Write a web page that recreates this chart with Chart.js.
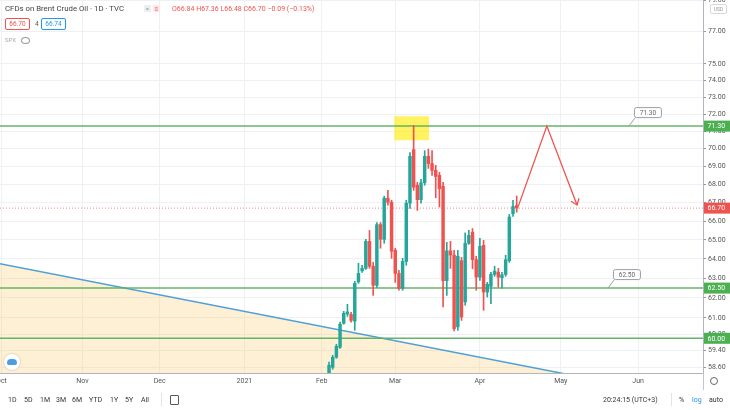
<!DOCTYPE html>
<html>
<head>
<meta charset="utf-8">
<script src="https://cdn.jsdelivr.net/npm/chart.js@4.4.0/dist/chart.umd.min.js"></script>
<style>
  body { margin: 0; background: #fff; font-family: Roboto, "Open Sans", sans-serif; }
  #wrap { position: relative; width: 730px; height: 410px; overflow: hidden; }
  #myChart { position: absolute; left: 0; top: 0; }
  .t { position: absolute; white-space: nowrap; line-height: 1; }
  .box { position: absolute; border: 1px solid; border-radius: 2px; background: #fff; font-size: 6.5px; text-align: center; line-height: 10px; box-sizing: border-box; }
  .tb { position: absolute; top: 396px; font-size: 7px; color: #333; white-space: nowrap; }
</style>
</head>
<body>
<div id="wrap">
  <canvas id="myChart" width="730" height="410"></canvas>

  <div class="t" style="left:5px;top:5px;font-size:7.8px;color:#444;">CFDs on Brent Crude Oil · 1D · TVC</div>
  <div class="t" style="left:144px;top:5px;width:7px;height:7px;background:#eceff2;border-radius:1px;font-size:6px;color:#888;text-align:center;line-height:7px;">=</div>
  <div class="t" style="left:153px;top:5px;width:7px;height:7px;background:#fde7ea;border-radius:1px;font-size:6px;color:#ef5350;text-align:center;line-height:7px;">≡</div>
  <div class="t" style="left:172px;top:6px;font-size:7px;color:#ef5350;">O66.84 H67.36 L66.48 C66.70 −0.09 (−0.13%)</div>

  <div class="box" style="left:5px;top:18px;width:25px;height:12px;border-color:#ef5350;color:#ef5350;">66.70</div>
  <div class="t" style="left:35px;top:21px;font-size:6.5px;color:#555;">4</div>
  <div class="box" style="left:41px;top:18px;width:25px;height:12px;border-color:#2196f3;color:#2196f3;">66.74</div>

  <div class="t" style="left:5px;top:37px;font-size:6px;color:#aaa;">SPX</div>
  <div class="t" style="left:21px;top:37px;width:7px;height:5px;border:1px solid #999;border-radius:50%;"></div>

  <div class="t" style="left:710px;top:4px;width:15px;height:8px;border:1px solid #d6d8dd;border-radius:2px;font-size:5px;color:#999;text-align:center;line-height:8px;">USD</div>

  <div class="t" style="left:4px;top:354px;width:16px;height:16px;border-radius:50%;background:#fff;box-shadow:0 0 2px rgba(0,0,0,0.25);"></div>
  <div class="t" style="left:7px;top:359px;width:10px;height:6px;border-radius:4px 4px 2px 2px;background:#4b9fe0;"></div>

  <div class="t" style="left:703px;top:373px;width:1px;height:17px;background:#c3c6cc;"></div>
  <div class="t" style="left:710px;top:377px;width:6px;height:6px;border:1.5px solid #666;border-radius:50%;"></div>

  <span class="tb" style="left:8px;">1D</span>
  <span class="tb" style="left:24px;">5D</span>
  <span class="tb" style="left:40px;">1M</span>
  <span class="tb" style="left:56px;">3M</span>
  <span class="tb" style="left:72px;">6M</span>
  <span class="tb" style="left:89px;">YTD</span>
  <span class="tb" style="left:110px;">1Y</span>
  <span class="tb" style="left:125px;">5Y</span>
  <span class="tb" style="left:141px;">All</span>
  <div class="t" style="left:161px;top:393px;width:1px;height:13px;background:#e0e3eb;"></div>
  <div class="t" style="left:170px;top:395px;width:7px;height:8px;border:1px solid #555;border-radius:1px;"></div>
  <span class="tb" style="left:603px;">20:24:15 (UTC+3)</span>
  <div class="t" style="left:671px;top:393px;width:1px;height:13px;background:#e0e3eb;"></div>
  <span class="tb" style="left:679px;">%</span>
  <span class="tb" style="left:692px;color:#2196f3;">log</span>
  <span class="tb" style="left:709px;">auto</span>
</div>

<script>
// x axis = trading day index counted from 1 Oct 2020
var monthLabels = ["Oct", "Nov", "Dec", "2021", "Feb", "Mar", "Apr", "May", "Jun"];
var monthIdx = [0, 22, 43, 66, 87, 107, 130, 152, 173];
var priceTicks = [58.6, 59.4, 60.2, 61, 62, 63, 64, 65, 66, 67, 68, 69, 70, 71, 72, 73, 74, 75, 77, 79];

// daily candles, first one at index 89
var firstIdx = 89;
var opens = [58.10, 58.60, 59.08, 59.56, 60.74, 61.20, 61.18, 60.84, 62.82, 63.38,
  63.51, 64.92, 63.62, 62.64, 65.81, 65.03, 67.24, 67.02, 64.45, 63.25,
  62.49, 63.87, 66.97, 69.95, 67.95, 67.16, 68.09, 69.57, 69.16, 68.78,
  68.50, 67.90, 62.88, 64.42, 64.20, 60.56, 63.91, 61.80, 64.82, 65.41,
  63.96, 63.06, 64.71, 62.30, 62.59, 63.20, 63.31, 63.03, 63.20, 63.91,
  66.40, 66.84];
var highs = [58.85, 59.18, 59.71, 60.79, 61.33, 61.68, 61.28, 62.84, 63.77, 63.67,
  65.03, 65.50, 63.82, 65.92, 65.92, 67.35, 67.67, 67.13, 64.56, 63.41,
  64.03, 67.13, 69.78, 71.34, 68.11, 68.28, 69.89, 69.98, 69.89, 69.06,
  68.67, 68.11, 64.87, 64.92, 64.45, 64.45, 64.08, 65.37, 65.50, 65.60,
  64.14, 65.08, 64.97, 62.79, 63.30, 63.62, 63.51, 63.30, 64.19, 66.36,
  67.13, 67.36];
var lows = [58.05, 58.51, 59.03, 59.51, 60.69, 61.08, 60.79, 60.39, 62.74, 63.30,
  63.46, 63.51, 62.13, 62.54, 64.56, 64.82, 66.86, 64.03, 62.79, 62.39,
  62.39, 63.67, 66.68, 67.67, 66.58, 66.97, 67.95, 68.89, 68.50, 67.26,
  66.76, 61.55, 62.13, 63.51, 60.36, 60.39, 60.88, 61.63, 64.76, 63.49,
  62.39, 62.89, 61.38, 62.05, 61.71, 63.10, 62.55, 62.49, 63.10, 63.82,
  66.25, 66.48];
var closes = [58.70, 59.08, 59.61, 60.69, 61.23, 61.30, 60.88, 62.74, 63.25, 63.51,
  64.92, 63.62, 62.64, 65.81, 65.03, 67.24, 67.02, 64.40, 63.25, 62.49,
  63.87, 66.97, 69.57, 67.85, 67.16, 68.09, 69.57, 69.16, 68.78, 68.44,
  67.76, 62.88, 64.42, 64.20, 60.47, 64.14, 61.05, 64.82, 65.24, 63.96,
  63.06, 64.66, 62.30, 62.69, 63.20, 63.37, 63.06, 63.18, 63.96, 66.22,
  66.79, 66.70];

// drawings on the chart
var levels = [71.30, 62.50, 60.00];
var lastPrice = 66.70;
var trendX = [-3, 154];
var trendY = [63.84, 58.26];
var projX = [140.4, 148.2, 156.4];
var projY = [66.78, 71.30, 66.87];
var boxX = [106.7, 116.2];
var boxY = [70.48, 71.87];
var calloutX = [170.5, 164.8];
var calloutY = [71.30, 62.50];
var tagValues = [71.30, 66.70, 62.50, 60.00];
var tagColors = ["#4caf50", "#ef5350", "#4caf50", "#4caf50"];

var X_MIN = -0.41, X_MAX = 190.63;
var UP = "#26a69a", DOWN = "#ef5350";

var wicks = [], bodies = [], colors = [];
for (var i = 0; i < opens.length; i++) {
  wicks.push({ x: firstIdx + i, y: [lows[i], highs[i]] });
  bodies.push({ x: firstIdx + i, y: [opens[i], closes[i]] });
  colors.push(closes[i] >= opens[i] ? UP : DOWN);
}

function hline(v) {
  return [{ x: X_MIN, y: v }, { x: X_MAX, y: v }];
}
function pts(xs, ys) {
  return xs.map(function (x, i) { return { x: x, y: ys[i] }; });
}

var datasets = [];
// trend line with the shaded area below it
datasets.push({
  type: "line", data: pts(trendX, trendY), borderColor: "#4f9fd8", borderWidth: 1.5,
  fill: "start", backgroundColor: "rgba(250,200,100,0.28)", pointRadius: 0, order: 20
});
// yellow box round the top
datasets.push({
  type: "line", data: pts(boxX, [boxY[1], boxY[1]]), borderWidth: 0, borderColor: "rgba(0,0,0,0)",
  fill: "+1", backgroundColor: "rgba(255,235,0,0.62)", pointRadius: 0, order: 19
});
datasets.push({
  type: "line", data: pts(boxX, [boxY[0], boxY[0]]), borderWidth: 0, borderColor: "rgba(0,0,0,0)",
  fill: false, pointRadius: 0, order: 19
});
levels.forEach(function (v) {
  datasets.push({
    type: "line", data: hline(v), borderColor: "rgba(92,176,96,0.95)", borderWidth: 1.5,
    fill: false, pointRadius: 0, order: 10
  });
});
datasets.push({
  type: "line", data: hline(lastPrice), borderColor: "rgba(239,83,80,0.7)", borderWidth: 1,
  borderDash: [1, 2], fill: false, pointRadius: 0, order: 11
});
datasets.push({
  type: "bar", data: wicks, backgroundColor: colors, barThickness: 1, grouped: false, order: 3
});
datasets.push({
  type: "bar", data: bodies, backgroundColor: colors, barThickness: 2.8, grouped: false,
  minBarLength: 1, order: 2
});
datasets.push({
  type: "line", data: pts(projX, projY), borderColor: "#ef5350", borderWidth: 1.3,
  fill: false, pointRadius: 0, order: 1
});

var overlay = {
  id: "overlay",
  afterDatasetsDraw: function (chart) {
    var ctx = chart.ctx, xs = chart.scales.x, ys = chart.scales.y;
    ctx.save();
    // arrow head at the end of the projection
    var n = projX.length;
    var x2 = xs.getPixelForValue(projX[n - 1]), y2 = ys.getPixelForValue(projY[n - 1]);
    var x1 = xs.getPixelForValue(projX[n - 2]), y1 = ys.getPixelForValue(projY[n - 2]);
    var ang = Math.atan2(y2 - y1, x2 - x1);
    ctx.strokeStyle = "#ef5350";
    ctx.lineWidth = 1.3;
    ctx.beginPath();
    ctx.moveTo(x2 - 7 * Math.cos(ang - 0.65), y2 - 7 * Math.sin(ang - 0.65));
    ctx.lineTo(x2, y2);
    ctx.lineTo(x2 - 7 * Math.cos(ang + 0.65), y2 - 7 * Math.sin(ang + 0.65));
    ctx.stroke();

    // callout labels
    ctx.font = "6.5px Roboto, sans-serif";
    ctx.textAlign = "center";
    ctx.textBaseline = "middle";
    for (var i = 0; i < calloutX.length; i++) {
      var ax = xs.getPixelForValue(calloutX[i]), ay = ys.getPixelForValue(calloutY[i]);
      ctx.strokeStyle = "#9a9ea6";
      ctx.lineWidth = 1;
      ctx.beginPath();
      ctx.moveTo(ax, ay);
      ctx.lineTo(ax + 6, ay - 8);
      ctx.stroke();
      var bx = ax + 5.5, by = ay - 18.5;
      ctx.beginPath();
      ctx.roundRect(bx, by, 27, 10, 2);
      ctx.fillStyle = "#fff";
      ctx.fill();
      ctx.stroke();
      ctx.fillStyle = "#666";
      ctx.fillText(calloutY[i].toFixed(2), bx + 13.5, by + 5.3);
    }
    ctx.restore();
  },
  afterDraw: function (chart) {
    var ctx = chart.ctx, ys = chart.scales.y, a = chart.chartArea;
    ctx.save();
    ctx.font = "7px Roboto, sans-serif";
    ctx.textAlign = "left";
    ctx.textBaseline = "middle";
    tagValues.forEach(function (v, i) {
      var y = ys.getPixelForValue(v);
      ctx.fillStyle = tagColors[i];
      ctx.fillRect(a.right + 1, y - 5.5, 26, 11);
      ctx.fillStyle = "#fff";
      ctx.fillText(v.toFixed(2), a.right + 4.5, y + 0.5);
    });
    ctx.restore();
  }
};

var ctx = document.getElementById("myChart").getContext("2d");
var myChart = new Chart(ctx, {
  type: "bar",
  data: { datasets: datasets },
  plugins: [overlay],
  options: {
    responsive: false,
    animation: false,
    layout: { padding: 0 },
    plugins: { legend: { display: false }, tooltip: { enabled: false } },
    scales: {
      x: {
        type: "linear",
        min: X_MIN,
        max: X_MAX,
        offset: false,
        grid: { color: "#eef0f4", offset: false, drawTicks: false },
        border: { color: "#b2b5be" },
        ticks: {
          autoSkip: false,
          maxRotation: 0,
          padding: 4,
          color: "#555",
          font: { size: 7, family: "Roboto" },
          callback: function (v) {
            var k = monthIdx.indexOf(v);
            return k >= 0 ? monthLabels[k] : "";
          }
        },
        afterBuildTicks: function (scale) {
          scale.ticks = monthIdx.map(function (v) { return { value: v }; });
        },
        afterFit: function (scale) {
          scale.height = 37;
          scale.paddingLeft = 0;
          scale.paddingRight = 0;
        }
      },
      y: {
        type: "logarithmic",
        position: "right",
        min: 58.33,
        max: 79.0,
        grid: { color: "#eef0f4", tickLength: 3, tickColor: "#9598a1" },
        border: { color: "#b2b5be" },
        ticks: {
          autoSkip: false,
          padding: 2,
          color: "#555",
          font: { size: 7, family: "Roboto" },
          callback: function (v) { return Number(v).toFixed(2); }
        },
        afterBuildTicks: function (scale) {
          scale.ticks = priceTicks.map(function (v) { return { value: v }; });
        },
        afterFit: function (scale) {
          scale.width = 27;
          scale.paddingTop = 0;
          scale.paddingBottom = 0;
        }
      }
    }
  }
});
</script>
</body>
</html>
